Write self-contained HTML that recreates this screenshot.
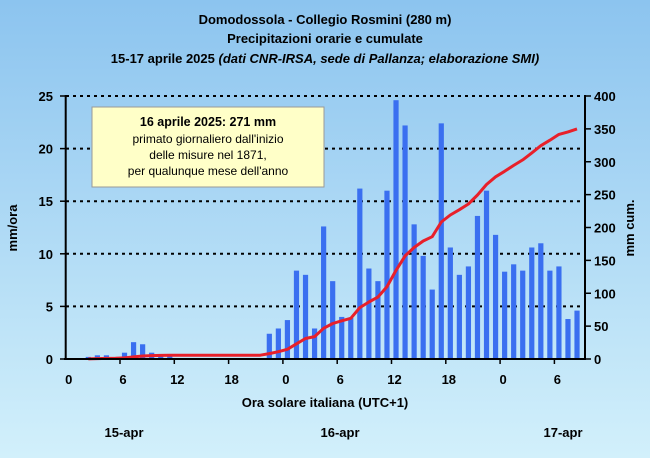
<!DOCTYPE html><html><head><meta charset="utf-8"><style>
body{margin:0;width:650px;height:458px;overflow:hidden}
svg{display:block;font-family:"Liberation Sans",Arial,sans-serif}
</style></head><body>
<svg id="s" width="650" height="458" xmlns="http://www.w3.org/2000/svg">
<defs><linearGradient id="g" x1="0" y1="0" x2="0" y2="1"><stop offset="0" stop-color="#8cc4ef"/><stop offset="1" stop-color="#d2f0fb"/></linearGradient></defs>
<rect width="650" height="458" fill="url(#g)"/>
<g font-weight="bold" font-size="13" text-anchor="middle" fill="#000">
<text x="325" y="24">Domodossola - Collegio Rosmini (280 m)</text>
<text x="325" y="43">Precipitazioni orarie e cumulate</text>
<text x="325" y="63">15-17 aprile 2025 <tspan font-style="italic">(dati CNR-IRSA, sede di Pallanza; elaborazione SMI)</tspan></text>
</g>
<g id="grid" stroke="#000" stroke-width="2" stroke-dasharray="3,4"></g>
<g id="bars" fill="#3a6ff0"></g>
<polyline id="cum" fill="none" stroke="#e8202a" stroke-width="3" stroke-linejoin="round"/>
<g stroke="#000" stroke-width="2"><line x1="65.7" y1="95" x2="65.7" y2="360"/><line x1="585" y1="95" x2="585" y2="360"/><line x1="64" y1="359" x2="586" y2="359"/></g>
<g id="ticks" stroke="#000" stroke-width="1.5"></g>
<g id="lbl" font-size="13" font-weight="bold" fill="#000"></g>
<rect x="92" y="107" width="232" height="80" fill="#ffffc8" stroke="#999" stroke-width="1"/>
<g font-size="12" text-anchor="middle" fill="#000"><text x="208" y="126" font-weight="bold" font-size="12.5">16 aprile 2025: 271 mm</text><text x="208" y="143">primato giornaliero dall'inizio</text><text x="208" y="159">delle misure nel 1871,</text><text x="208" y="175">per qualunque mese dell'anno</text></g>
<g font-size="13" font-weight="bold" fill="#000">
<text transform="translate(17,228) rotate(-90)" text-anchor="middle">mm/ora</text>
<text transform="translate(634,228) rotate(-90)" text-anchor="middle">mm cum.</text>
<text x="325" y="407" text-anchor="middle">Ora solare italiana (UTC+1)</text>
<text x="124" y="437" text-anchor="middle">15-apr</text>
<text x="340" y="437" text-anchor="middle">16-apr</text>
<text x="563" y="437" text-anchor="middle">17-apr</text>
</g>
</svg>
<script>
var ns="http://www.w3.org/2000/svg",X0=65.7,H=9.05,Y0=359,K=10.52;
function el(p,t,a,txt){var e=document.createElementNS(ns,t);for(var k in a)e.setAttribute(k,a[k]);if(txt!=null)e.textContent=txt;document.getElementById(p).appendChild(e);}
var v=new Array(57).fill(0);
var d={2:.2,3:.35,4:.35,5:.1,6:.6,7:1.6,8:1.4,9:.6,10:.3,11:.3,22:2.4,23:2.9,24:3.7,25:8.4,26:8.0,27:2.9,28:12.6,29:7.4,30:4.0,31:3.9,32:16.2,33:8.6,34:7.4,35:16.0,36:24.6,37:22.2,38:12.8,39:9.8,40:6.6,41:22.4,42:10.6,43:8.0,44:8.8,45:13.6,46:16.0,47:11.8,48:8.3,49:9.0,50:8.4,51:10.6,52:11.0,53:8.4,54:8.8,55:3.8,56:4.6};
for(var k in d)v[k]=d[k];
for(var i=1;i<=5;i++){var y=Y0-i*5*K;el("grid","line",{x1:66,y1:y,x2:585,y2:y});}
for(var i=0;i<57;i++)if(v[i]>0){var h=v[i]*K;el("bars","rect",{x:X0+(i+0.5)*H-2.6,y:Y0-h,width:5.2,height:h});}
var c=0,tot=v.reduce(function(a,b){return a+b},0),pts=[],s=350/tot;
for(var i=0;i<57;i++){c+=v[i];if(i>=2)pts.push((X0+(i+0.5)*H).toFixed(1)+","+(Y0-c*s*263/400).toFixed(1));}
document.getElementById("cum").setAttribute("points",pts.join(" "));
var labs=["0","6","12","18","0","6","12","18","0","6"];
for(var i=0;i<10;i++){var x=X0+i*6*H;if(i>0)el("ticks","line",{x1:x,y1:359,x2:x,y2:364});el("lbl","text",{x:x+3,y:384,"text-anchor":"middle"},labs[i]);}
for(var i=0;i<=5;i++){var y=Y0-i*5*K;el("ticks","line",{x1:60,y1:y,x2:66,y2:y});el("lbl","text",{x:53,y:y+5,"text-anchor":"end"},String(i*5));}
for(var i=0;i<=8;i++){var y=Y0-i*50*263/400;el("ticks","line",{x1:585,y1:y,x2:591,y2:y});el("lbl","text",{x:594,y:y+5},String(i*50));}
</script>
</body></html>
